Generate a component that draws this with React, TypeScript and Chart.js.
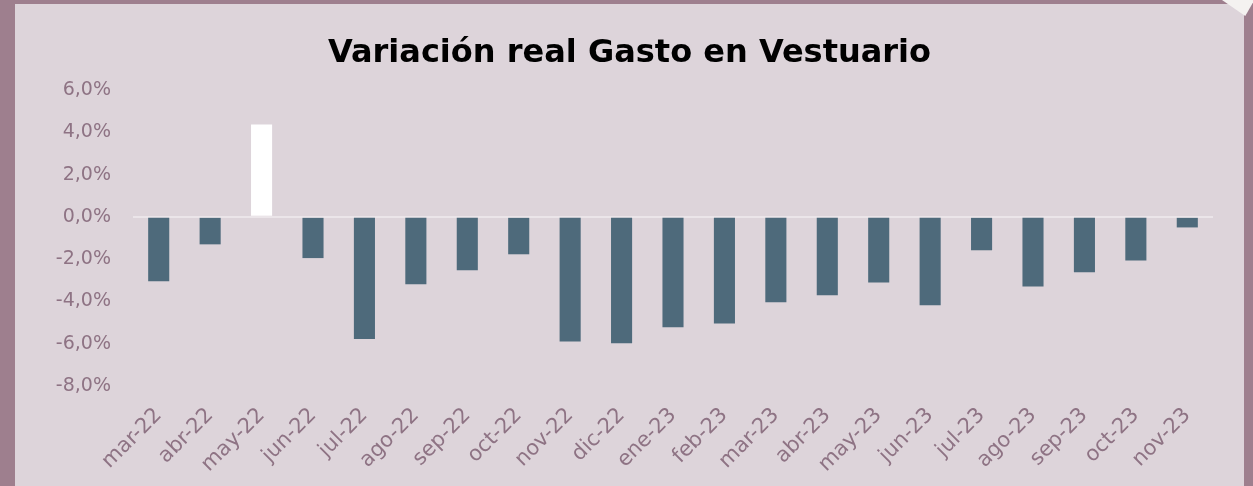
import React, { useEffect, useRef } from "react";
import { Chart, registerables } from "chart.js";

Chart.register(...registerables);

const categories = [
  "mar-22", "abr-22", "may-22", "jun-22", "jul-22", "ago-22", "sep-22", "oct-22",
  "nov-22", "dic-22", "ene-23", "feb-23", "mar-23", "abr-23", "may-23", "jun-23",
  "jul-23", "ago-23", "sep-23", "oct-23", "nov-23",
];

const variacion = [
  -3.05, -1.3, 4.37, -1.95, -5.78, -3.19, -2.53, -1.77,
  -5.89, -5.98, -5.22, -5.04, -4.04, -3.71, -3.1, -4.18,
  -1.58, -3.29, -2.62, -2.06, -0.5,
];

const yMin = -8;
const yMax = 6;
const yStep = 2;

const title = "Variación real Gasto en Vestuario";

const barColor = "#4e6a7b";
const positiveColor = "#ffffff";
const labelColor = "#8e7384";
const fontFamily = "'DejaVu Sans', sans-serif";

export default function App() {
  const canvasRef = useRef<HTMLCanvasElement | null>(null);

  useEffect(() => {
    document.body.style.margin = "0";
    const canvas = canvasRef.current;
    if (!canvas) return;
    const chart = new Chart(canvas, {
      type: "bar",
      data: {
        labels: categories,
        datasets: [
          {
            data: variacion,
            backgroundColor: variacion.map((v) => (v >= 0 ? positiveColor : barColor)),
            borderWidth: 0,
            barPercentage: 0.41,
            categoryPercentage: 1,
          },
        ],
      },
      options: {
        responsive: false,
        animation: false,
        devicePixelRatio: 1,
        layout: { padding: { top: 0, right: 31, bottom: 0, left: 31 } },
        plugins: {
          legend: { display: false },
          tooltip: { enabled: false },
          title: {
            display: true,
            text: title,
            color: "#000000",
            font: { family: fontFamily, size: 32, weight: "bold" },
            padding: { top: 30, bottom: 17.6 },
          },
        },
        scales: {
          x: {
            grid: { display: false },
            border: { display: false },
            ticks: {
              color: labelColor,
              font: { family: fontFamily, size: 21 },
              minRotation: 45,
              maxRotation: 45,
              padding: 9,
            },
            afterFit: (scale: any) => {
              scale.height = 100;
            },
          },
          y: {
            min: yMin,
            max: yMax,
            border: { display: false },
            grid: {
              drawTicks: false,
              lineWidth: 2,
              color: (ctx: any) => (ctx.tick && ctx.tick.value === 0 ? "#ebe5e9" : "rgba(0,0,0,0)"),
            },
            ticks: {
              stepSize: yStep,
              color: labelColor,
              font: { family: fontFamily, size: 19 },
              padding: 22,
              callback: (v: any) => Number(v).toFixed(1).replace(".", ",") + "%",
            },
            afterFit: (scale: any) => {
              scale.width = 87;
            },
          },
        },
      },
    });
    return () => chart.destroy();
  }, []);

  return (
    <div style={{ position: "absolute", left: 0, top: 0, width: 1253, height: 486, background: "#9e7f8e", overflow: "hidden" }}>
      <div style={{ position: "absolute", left: 15, top: 4, width: 1229, height: 482, background: "#ddd4da" }}>
        <canvas ref={canvasRef} width={1229} height={482} style={{ display: "block" }} />
      </div>
      <div
        style={{
          position: "absolute",
          left: 1222,
          top: 0,
          width: 31,
          height: 16,
          background: "#f4f2f0",
          clipPath: "polygon(0 0, 100% 0, 100% 15%, 75% 100%)",
        }}
      />
    </div>
  );
}
